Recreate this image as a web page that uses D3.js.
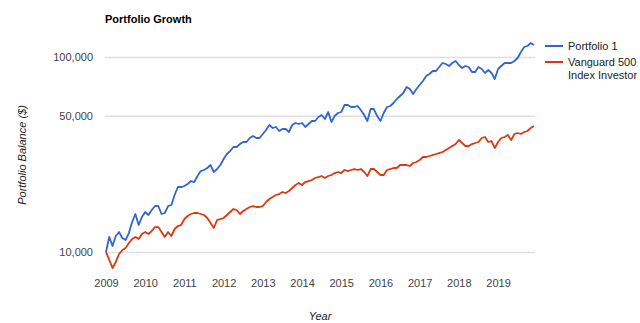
<!DOCTYPE html>
<html><head><meta charset="utf-8">
<script src="https://cdn.jsdelivr.net/npm/d3@7"></script>
<style>body{margin:0;background:#fff}svg{display:block;font-family:"Liberation Sans",Arial,sans-serif}</style>
</head><body><svg id="c" width="640" height="323"></svg>
<script>
const startYear = 2009;
const yearLabels = ["2009","2010","2011","2012","2013","2014","2015","2016","2017","2018","2019"];
const yTicks = [10000, 50000, 100000];
const seriesNames = ["Portfolio 1", "Vanguard 500 Index Investor"];
const portfolio1 = [10000,11940,10730,12080,12660,11800,11520,12510,14250,15660,13750,15120,
16040,15480,16420,17210,17210,15660,15850,17210,17420,19600,21540,21540,
21800,22320,23120,22850,24530,26020,26330,26960,27930,25720,26640,27930,
29990,31800,32950,34550,34550,35790,36650,36650,38420,39340,38420,38420,
40280,42230,44800,43240,43750,41730,42730,42730,41240,44800,45870,45330,
45870,43750,45330,46970,46970,49240,50420,48090,52230,46420,49820,51620,
52230,56730,56730,55410,55410,56070,53480,50420,46970,54110,54110,49820,
46970,51620,55410,56070,58090,60900,63090,65370,70170,68530,64600,68530,
71840,75320,79900,81810,84760,84760,88860,93160,92070,89920,93160,95390,
90990,87820,89920,88860,83770,83770,88860,86790,82780,85770,82780,77110,
86790,89920,93160,93160,93160,95390,98820,106080,112530,113870,117970,115210];
const vanguard500 = [10000,9100,8280,8890,9770,10240,10480,11120,11660,11940,11660,12370,
12660,12370,12810,13430,13430,12660,11940,12660,12080,13120,13590,13750,
14760,15300,15660,15850,15850,15660,15480,14940,14080,13280,14590,14760,
14940,15480,16040,16610,16420,15660,16230,16610,17010,17210,17010,17010,
17210,18050,18700,19140,19600,19830,20310,20070,20550,21290,22060,22580,
22060,22850,23120,23400,23960,24240,24530,23960,24530,24820,25410,25720,
25410,26330,26020,26330,26640,26330,26640,25720,24530,26640,26640,25720,
24820,24820,26330,26640,26960,26960,27930,27930,27930,27610,28600,28940,
29630,30700,30700,31070,31430,31810,32180,32570,33350,34140,34960,35790,
37530,36220,34960,34960,35790,36220,36650,38420,38880,36650,37080,34140,
36650,38420,38880,39810,37530,40280,40760,40280,41240,41730,43240,44270];
const colors = ["#3366cc", "#dc3912"];

const svg = d3.select("#c");
const x = d3.scaleLinear().domain([0, portfolio1.length - 1]).range([106, 534]);
const y = d3.scaleLog().domain([10000, 100000]).range([252, 57]);

// title
svg.append("text").attr("x", 105).attr("y", 23).attr("font-size", 11).attr("font-weight", "bold")
  .attr("fill", "#000").text("Portfolio Growth");

// gridlines + y labels
const yAxis = d3.axisLeft(y).tickValues(yTicks).tickSize(-(535 - 105)).tickFormat(d3.format(","));
const gy = svg.append("g").attr("transform", "translate(105,0)").call(yAxis);
gy.select(".domain").remove();
gy.selectAll(".tick line").attr("stroke", "#e0e0e0").attr("stroke-width", 1.5);
gy.selectAll(".tick text").attr("x", -12).attr("font-size", 11).attr("fill", "#444")
  .attr("font-family", "Liberation Sans, Arial, sans-serif");

// x axis labels
const xAxis = d3.axisBottom(x).tickValues(yearLabels.map((d, i) => i * 12))
  .tickFormat((d, i) => yearLabels[i]).tickSize(0);
const gx = svg.append("g").attr("transform", "translate(0,276)").call(xAxis);
gx.select(".domain").remove();
gx.selectAll(".tick text").attr("font-size", 11).attr("fill", "#444")
  .attr("font-family", "Liberation Sans, Arial, sans-serif");

// axis titles
svg.append("text").attr("x", 320).attr("y", 320).attr("text-anchor", "middle")
  .attr("font-size", 11).attr("font-style", "italic").attr("fill", "#222").text("Year");
svg.append("text").attr("transform", "translate(26,155) rotate(-90)").attr("text-anchor", "middle")
  .attr("font-size", 11).attr("font-style", "italic").attr("fill", "#222").text("Portfolio Balance ($)");

// lines
const line = d3.line().x((d, i) => x(i)).y(d => y(d));
[vanguard500, portfolio1].forEach((s, k) => {
  svg.append("path").datum(s).attr("d", line).attr("fill", "none")
    .attr("stroke", k === 0 ? colors[1] : colors[0]).attr("stroke-width", 1.8)
    .attr("stroke-linejoin", "round");
});

// legend
const lg = svg.append("g");
lg.append("line").attr("x1", 545).attr("x2", 563).attr("y1", 46).attr("y2", 46).attr("stroke", colors[0]).attr("stroke-width", 2);
lg.append("text").attr("x", 568).attr("y", 50).attr("font-size", 11).attr("fill", "#222").text(seriesNames[0]);
lg.append("line").attr("x1", 545).attr("x2", 563).attr("y1", 62).attr("y2", 62).attr("stroke", colors[1]).attr("stroke-width", 2);
const t2 = lg.append("text").attr("x", 568).attr("y", 66).attr("font-size", 11).attr("fill", "#222");
t2.append("tspan").attr("x", 568).text("Vanguard 500");
t2.append("tspan").attr("x", 568).attr("dy", 13).text("Index Investor");
</script></body></html>
